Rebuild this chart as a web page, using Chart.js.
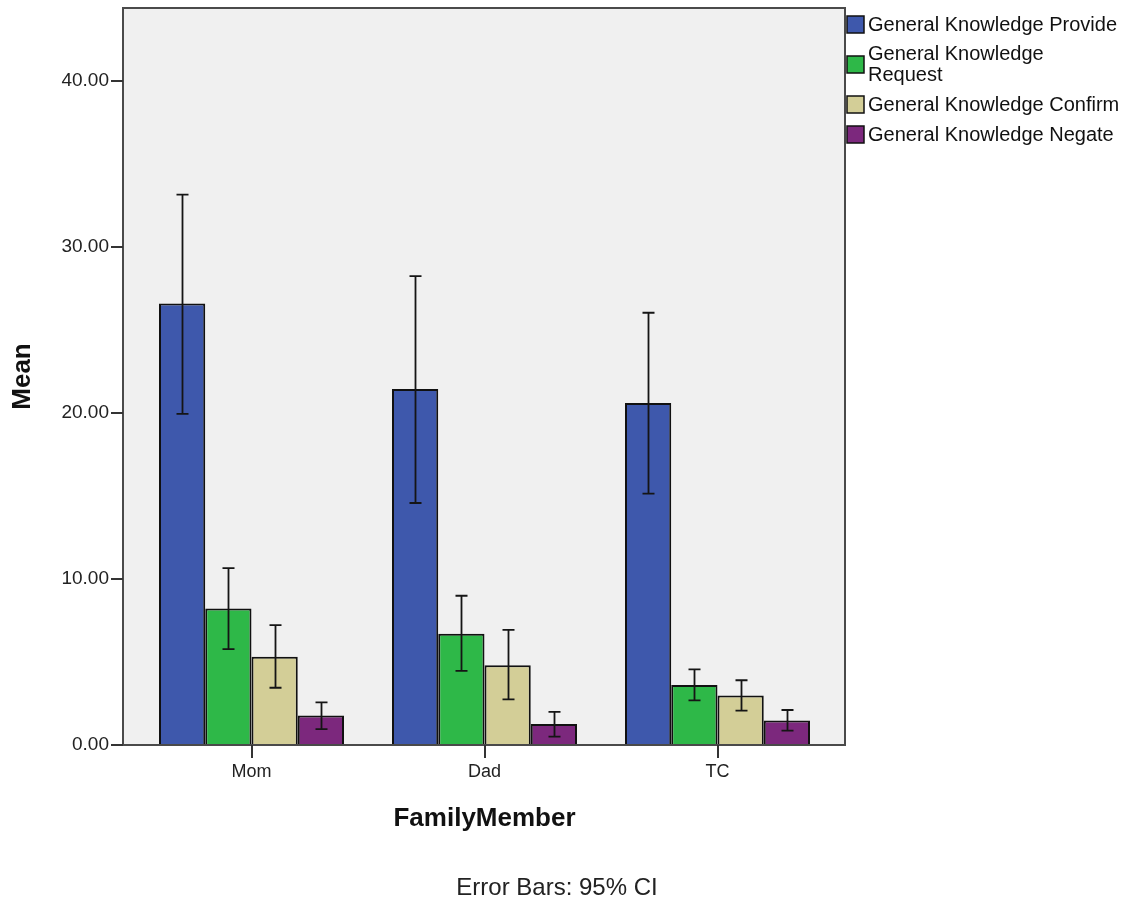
<!DOCTYPE html>
<html>
<head>
<meta charset="utf-8">
<script src="https://cdn.jsdelivr.net/npm/chart.js@4.4.1/dist/chart.umd.min.js"></script>
<style>
  html, body { margin: 0; padding: 0; background: #fff; }
  #wrap { width: 1129px; height: 905px; }
</style>
</head>
<body>
<div id="wrap"><canvas id="myChart" width="1129" height="905"></canvas></div>
<script>
var categories = ["Mom", "Dad", "TC"];
var seriesNames = [
    "General Knowledge Provide",
    "General Knowledge Request",
    "General Knowledge Confirm",
    "General Knowledge Negate"
];
var legendLines = [
    ["General Knowledge Provide"],
    ["General Knowledge", "Request"],
    ["General Knowledge Confirm"],
    ["General Knowledge Negate"]
];
var colors = ["#3E58AC", "#2EB848", "#D3CE97", "#7C287D"];

// means per series (Mom, Dad, TC)
var provide = [26.6, 21.45, 20.6];
var request = [8.23, 6.7, 3.61];
var confirm_ = [5.32, 4.8, 2.98];
var negate = [1.77, 1.26, 1.48];

// 95% CI bounds
var provideLow = [19.95, 14.58, 15.14];
var provideHigh = [33.16, 28.25, 26.04];
var requestLow = [5.78, 4.46, 2.69];
var requestHigh = [10.65, 8.99, 4.56];
var confirmLow = [3.45, 2.75, 2.07];
var confirmHigh = [7.22, 6.93, 3.9];
var negateLow = [0.96, 0.5, 0.87];
var negateHigh = [2.57, 1.99, 2.11];

var yTicks = [0, 10, 20, 30, 40];
var yMax = 44.4;

var seriesValues = [provide, request, confirm_, negate];
var lows = [provideLow, requestLow, confirmLow, negateLow];
var highs = [provideHigh, requestHigh, confirmHigh, negateHigh];

var FONT = "'Liberation Sans', Arial, sans-serif";

var datasets = seriesNames.map(function (name, i) {
    return {
        label: name,
        data: seriesValues[i],
        low: lows[i],
        high: highs[i],
        backgroundColor: colors[i],
        borderColor: "#111",
        borderWidth: 2,
        categoryPercentage: 0.794,
        barPercentage: 1.0
    };
});

// plot background + frame, a bit wider than the category area (like SPSS)
var framePlugin = {
    id: "frame",
    beforeDatasetsDraw: function (chart) {
        var a = chart.chartArea, ctx = chart.ctx;
        var l = a.left - 12, r = a.right + 11;
        ctx.save();
        ctx.fillStyle = "#F0F0F0";
        ctx.fillRect(l, a.top, r - l, a.bottom - a.top);
        ctx.restore();
    },
    afterDatasetsDraw: function (chart) {
        var a = chart.chartArea, ctx = chart.ctx;
        var l = a.left - 12, r = a.right + 11;
        var y = chart.scales.y, x = chart.scales.x;
        ctx.save();
        ctx.strokeStyle = "#4a4a4a";
        ctx.lineWidth = 2;
        ctx.strokeRect(l, a.top, r - l, a.bottom - a.top);
        ctx.strokeStyle = "#333";
        ctx.beginPath();
        yTicks.forEach(function (v) {
            var py = Math.round(y.getPixelForValue(v));
            ctx.moveTo(l - 12, py);
            ctx.lineTo(l, py);
        });
        categories.forEach(function (c, i) {
            var px = Math.round(x.getPixelForValue(i));
            ctx.moveTo(px, a.bottom);
            ctx.lineTo(px, a.bottom + 13);
        });
        ctx.stroke();
        ctx.restore();
    }
};

var errorBarPlugin = {
    id: "errorBars",
    afterDatasetsDraw: function (chart) {
        var ctx = chart.ctx, y = chart.scales.y;
        ctx.save();
        ctx.strokeStyle = "#151515";
        ctx.lineWidth = 1.8;
        chart.data.datasets.forEach(function (ds, di) {
            var meta = chart.getDatasetMeta(di);
            meta.data.forEach(function (bar, i) {
                var yl = y.getPixelForValue(ds.low[i]);
                var yh = y.getPixelForValue(ds.high[i]);
                var bx = Math.round(bar.x) + 0.5;
                ctx.beginPath();
                ctx.moveTo(bx, yl);
                ctx.lineTo(bx, yh);
                ctx.moveTo(bx - 6, yl);
                ctx.lineTo(bx + 6, yl);
                ctx.moveTo(bx - 6, yh);
                ctx.lineTo(bx + 6, yh);
                ctx.stroke();
            });
        });
        ctx.restore();
    }
};

var legendPlugin = {
    id: "sideLegend",
    afterDraw: function (chart) {
        var ctx = chart.ctx, a = chart.chartArea;
        var bx = a.right + 13, tx = bx + 21;
        var yy = a.top + 1;
        ctx.save();
        ctx.font = "20px " + FONT;
        ctx.textBaseline = "middle";
        ctx.fillStyle = "#111";
        chart.data.datasets.forEach(function (ds, i) {
            var lines = legendLines[i];
            var h = 10 + lines.length * 20;
            var cy = yy + h / 2;
            ctx.fillStyle = ds.backgroundColor;
            ctx.fillRect(bx, cy - 8, 17, 17);
            ctx.strokeStyle = "#111";
            ctx.lineWidth = 1.5;
            ctx.strokeRect(bx, cy - 8, 17, 17);
            ctx.fillStyle = "#111";
            lines.forEach(function (t, k) {
                ctx.fillText(t, tx, cy + 1 + (k - (lines.length - 1) / 2) * 21);
            });
            yy += h;
        });
        ctx.font = "24px " + FONT;
        ctx.textAlign = "center";
        ctx.fillStyle = "#222";
        ctx.fillText("Error Bars: 95% CI", 557, 888);
        ctx.restore();
    }
};

var ctx = document.getElementById("myChart");
var myChart = new Chart(ctx, {
    type: "bar",
    data: { labels: categories, datasets: datasets },
    options: {
        responsive: false,
        animation: false,
        layout: { padding: { left: 0, right: 295, top: 8, bottom: 0 } },
        plugins: {
            legend: { display: false },
            tooltip: { enabled: false }
        },
        scales: {
            x: {
                grid: { display: false, drawTicks: false },
                border: { display: false },
                ticks: { font: { family: FONT, size: 18 }, color: "#222", padding: 16 },
                title: {
                    display: true,
                    text: "FamilyMember",
                    font: { family: FONT, size: 26, weight: "bold" },
                    color: "#111",
                    padding: { top: 0, bottom: 71 }
                },
                afterFit: function (scale) {
                    scale.height = 160;
                    scale.paddingLeft = 0;
                    scale.paddingRight = 0;
                }
            },
            y: {
                min: 0,
                max: yMax,
                grid: { display: false, drawTicks: false },
                border: { display: false },
                ticks: {
                    stepSize: 10,
                    padding: 26,
                    font: { family: FONT, size: 19 },
                    color: "#222",
                    callback: function (v) { return v.toFixed(2); }
                },
                afterBuildTicks: function (scale) {
                    scale.ticks = yTicks.map(function (v) { return { value: v }; });
                },
                title: {
                    display: true,
                    text: "Mean",
                    font: { family: FONT, size: 26, weight: "bold" },
                    color: "#111",
                    padding: { top: 7, bottom: 0 }
                },
                afterFit: function (scale) {
                    scale.width = 135;
                    scale.paddingTop = 0;
                    scale.paddingBottom = 0;
                }
            }
        }
    },
    plugins: [framePlugin, errorBarPlugin, legendPlugin]
});
</script>
</body>
</html>
